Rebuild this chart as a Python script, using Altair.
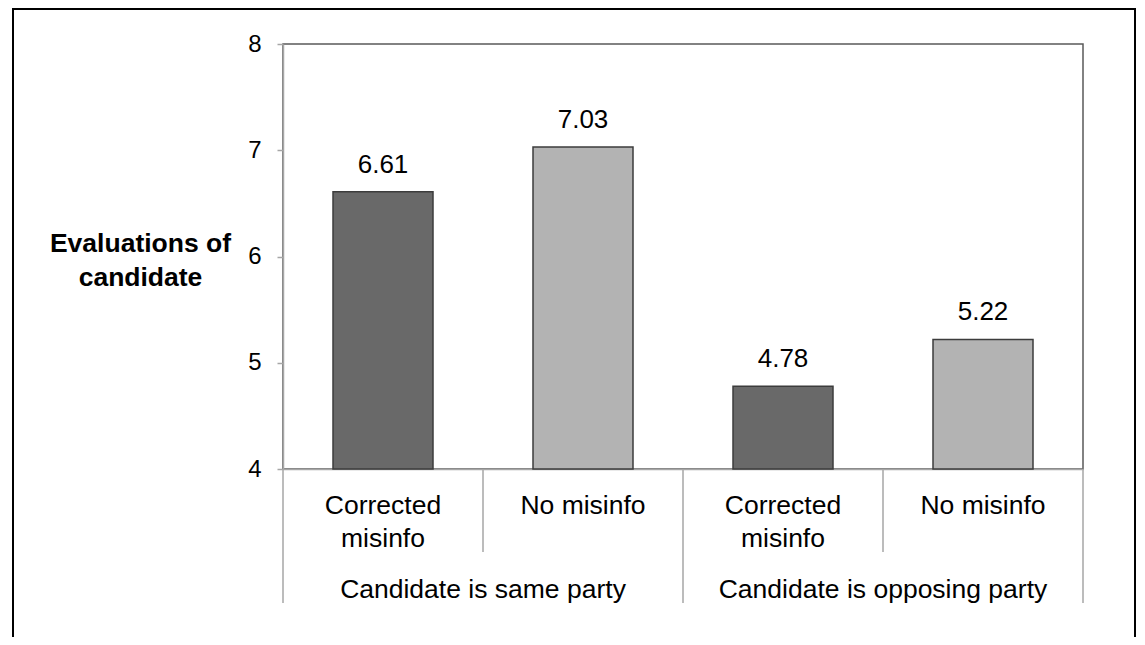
import altair as alt
import pandas as pd

# ---- data ----
groups = ["Candidate is same party", "Candidate is same party",
          "Candidate is opposing party", "Candidate is opposing party"]
conditions = ["Corrected\nmisinfo", "No misinfo", "Corrected\nmisinfo", "No misinfo"]
values = [6.61, 7.03, 4.78, 5.22]
condition_order = ["Corrected\nmisinfo", "No misinfo"]
y_ticks = [4, 5, 6, 7, 8]
y_title = ["Evaluations of", "candidate"]

FONT = "Liberation Sans"

df = pd.DataFrame({
    "id": [f"{g}|{c}" for g, c in zip(groups, conditions)],
    "group": groups,
    "condition": conditions,
    "value": values,
})

# category boundaries (index units) derived from the groups list
n = len(groups)
long_b, short_b = [0], []
for i in range(1, n):
    (long_b if groups[i] != groups[i - 1] else short_b).append(i)
long_b.append(n)
sep_df = pd.DataFrame({"pos": long_b + short_b,
                       "kind": ["long"] * len(long_b) + ["short"] * len(short_b)})

group_names = list(dict.fromkeys(groups))
centers = []
for g in group_names:
    idx = [i for i, gg in enumerate(groups) if gg == g]
    centers.append((min(idx) + max(idx) + 1) / 2)
grp_df = pd.DataFrame({"group": group_names, "center": centers})

# ---- chart ----
W, H = 800, 425
xband = alt.X("id:N", sort=None,
              scale=alt.Scale(paddingInner=0.5, paddingOuter=0.25),
              axis=alt.Axis(labels=False, ticks=False, title=None,
                            domainColor="#a6a6a6", domainWidth=1.5))
yq = alt.Y("value:Q",
           scale=alt.Scale(domain=[4, 8], nice=False, zero=False),
           axis=alt.Axis(values=y_ticks, grid=False,
                         domainColor="#a6a6a6", domainWidth=1.5,
                         tickColor="#a6a6a6", tickWidth=1.5, tickSize=6,
                         labelFontSize=24, labelColor="black", labelFont=FONT,
                         labelPadding=16, labelFlush=False, labelOverlap=False,
                         title=y_title, titleFontSize=26.5, titleFont=FONT,
                         titleFontWeight="bold", titleColor="black",
                         titleAngle=0, titleAlign="center", titleBaseline="middle",
                         titleX=-143, titleY=199, titleLineHeight=34))

base = alt.Chart(df)
bars = base.mark_bar(stroke="#3c3c3c", strokeWidth=1.5).encode(
    x=xband, y=yq, y2=alt.datum(y_ticks[0]),
    color=alt.Color("condition:N",
                    scale=alt.Scale(domain=condition_order,
                                    range=["#696969", "#b3b3b3"]),
                    legend=None),
)
bar_labels = base.mark_text(dy=-19, baseline="alphabetic", fontSize=26,
                            font=FONT, color="black").encode(
    x=xband, y=yq, text=alt.Text("value:Q", format=".2f"))
cat_labels = base.mark_text(baseline="top", lineBreak="\n", lineHeight=33,
                            fontSize=26.5, font=FONT, color="black").encode(
    x=xband, y=alt.value(449), text="condition:N")

main = alt.layer(bars, bar_labels, cat_labels)

xidx = alt.Scale(domain=[0, n], nice=False, zero=False)
seps_short = alt.Chart(sep_df).transform_filter(alt.datum.kind == "short").mark_rule(
    color="#a6a6a6", strokeWidth=1.5).encode(
    x=alt.X("pos:Q", scale=xidx, axis=None), y=alt.value(H), y2=alt.value(H + 83))
seps_long = alt.Chart(sep_df).transform_filter(alt.datum.kind == "long").mark_rule(
    color="#a6a6a6", strokeWidth=1.5).encode(
    x=alt.X("pos:Q", scale=xidx, axis=None), y=alt.value(H), y2=alt.value(H + 134))
grp_labels = alt.Chart(grp_df).mark_text(baseline="middle", fontSize=26.5, font=FONT,
                                         color="black").encode(
    x=alt.X("center:Q", scale=xidx, axis=None), y=alt.value(546), text="group:N")

frame = alt.Chart(pd.DataFrame({"k": [0]})).mark_rect(
    fillOpacity=0, stroke="black", strokeWidth=2).encode(
    x=alt.value(-270), x2=alt.value(852), y=alt.value(-35), y2=alt.value(700))

idx_layer = alt.layer(seps_short, seps_long, grp_labels)

chart = alt.layer(main, idx_layer, frame).resolve_scale(x="independent").properties(
    width=W, height=H,
    background="white",
    autosize=alt.AutoSizeParams(type="none"),
    padding={"left": 275, "top": 36, "right": 54, "bottom": 168},
).configure_view(stroke="#595959", strokeWidth=1.5)

chart.save("out.html", embed_options={"renderer": "svg", "actions": False})
